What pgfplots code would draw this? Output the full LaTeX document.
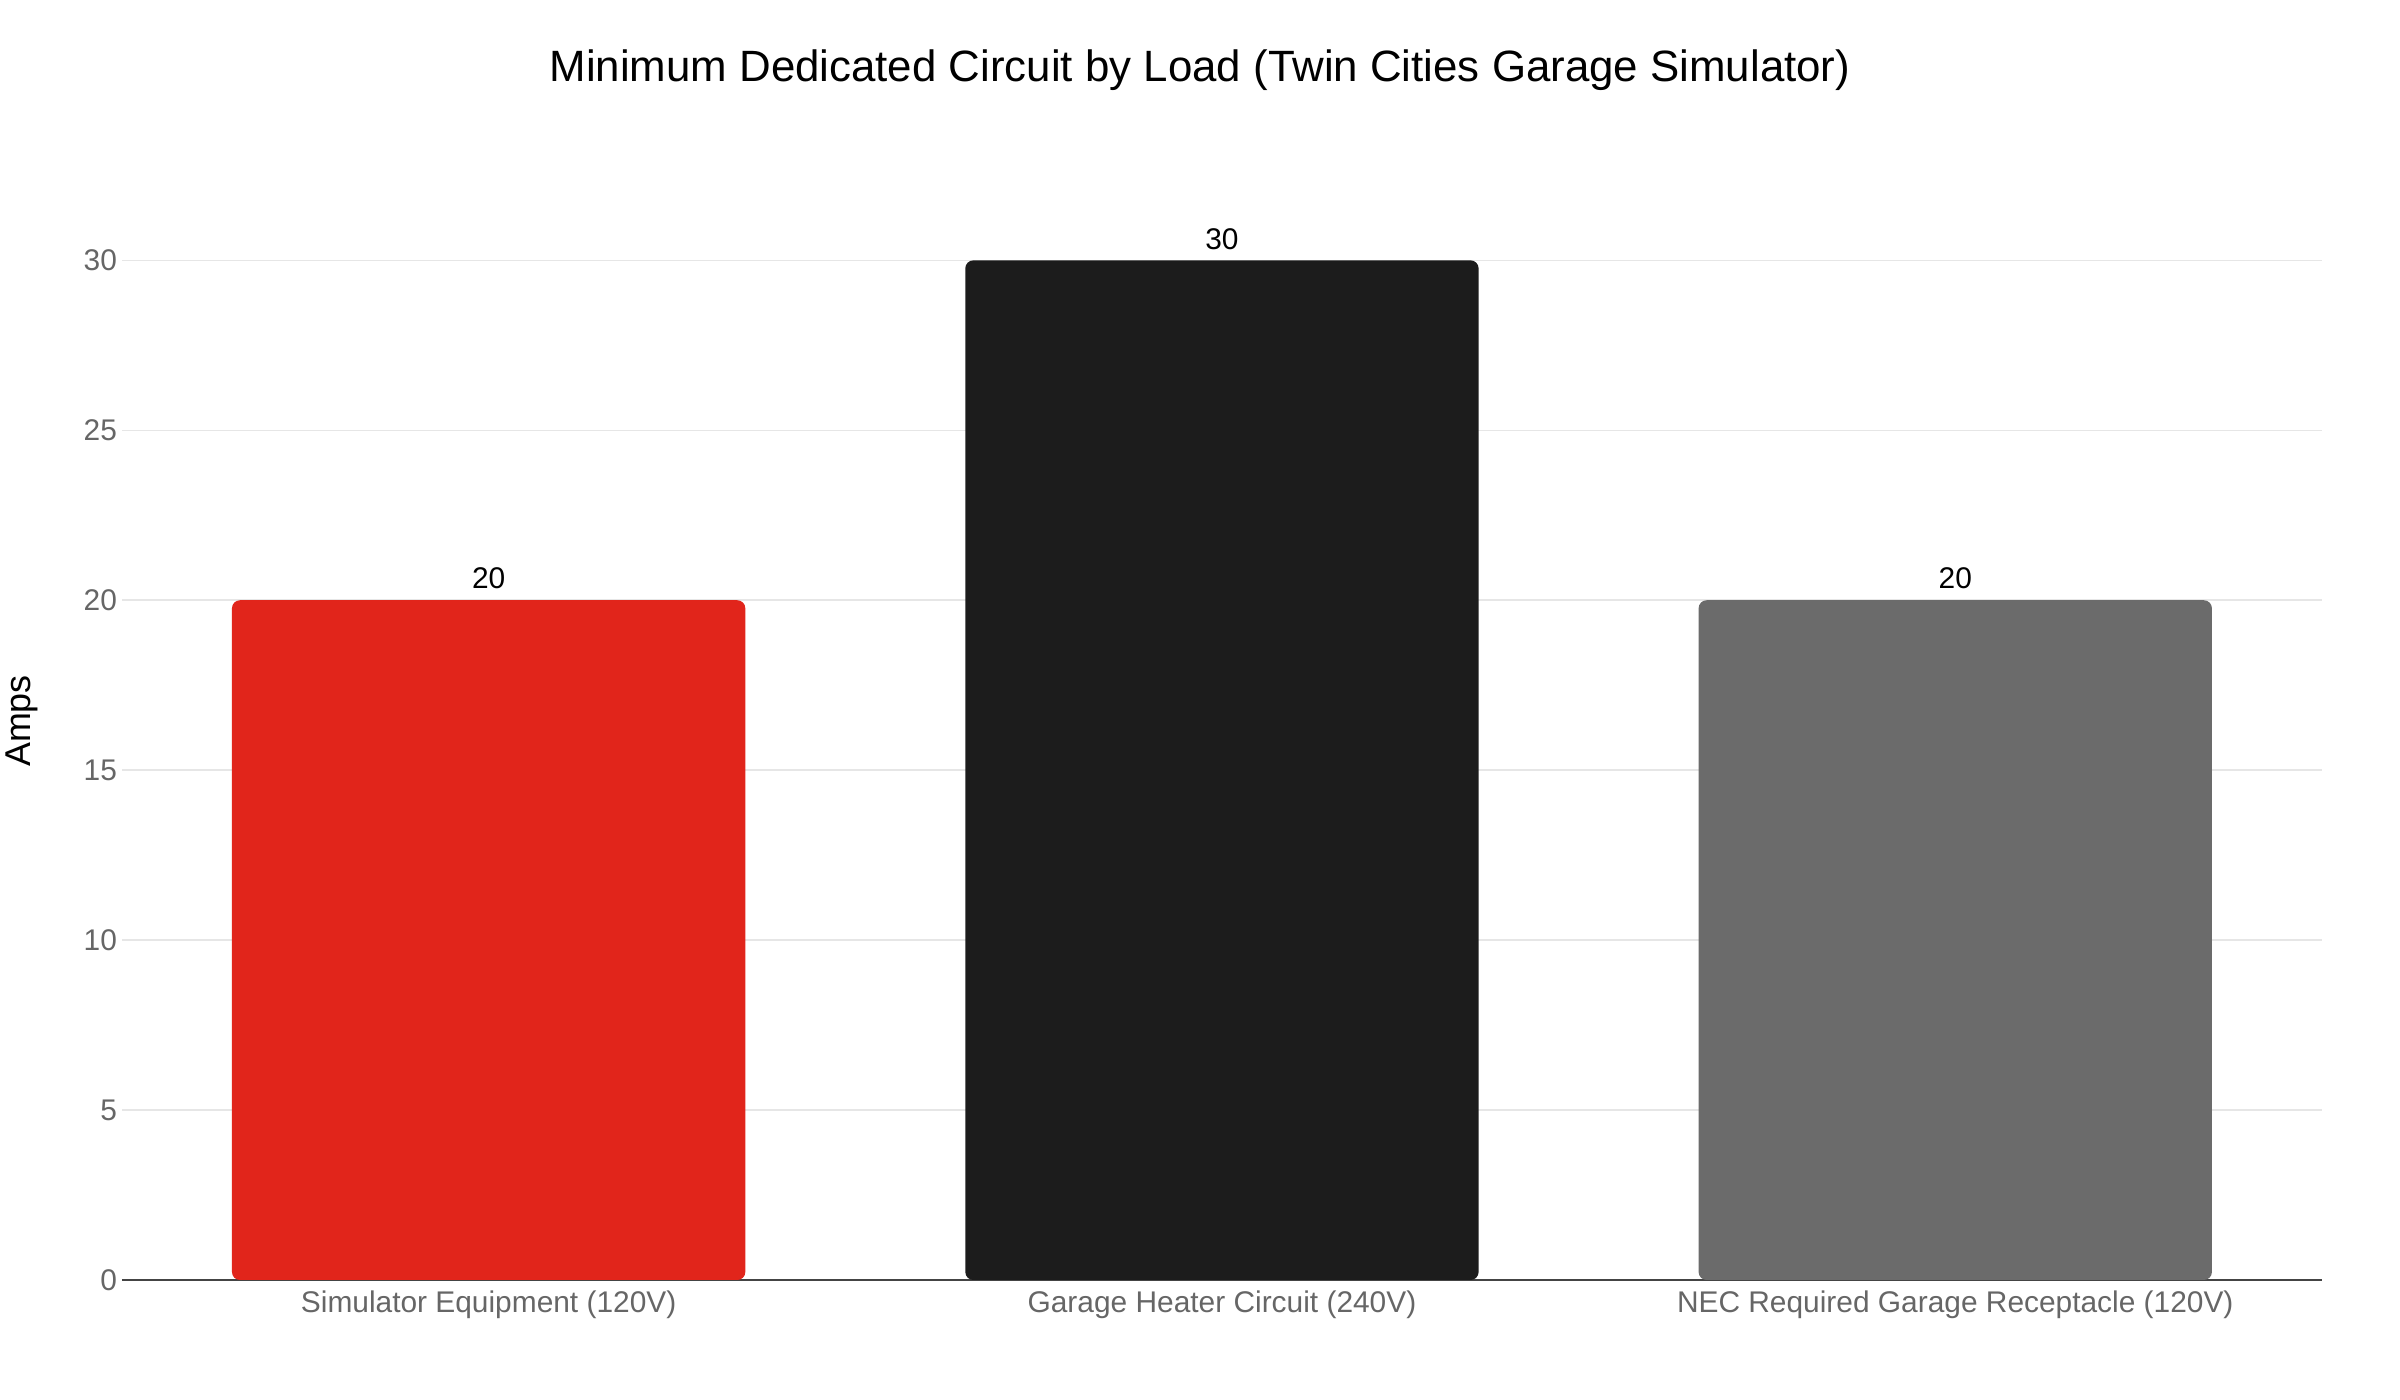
\documentclass[border=0pt]{standalone}
\usepackage{fontspec}
\setmainfont{Liberation Sans}
\usepackage{pgfplots}
\pgfplotsset{compat=1.18}

\definecolor{simred}{HTML}{E1251B}
\definecolor{heatblack}{HTML}{1C1C1C}
\definecolor{necgray}{HTML}{6B6B6B}
\definecolor{ticktext}{HTML}{666666}
\definecolor{gridgray}{HTML}{E6E6E6}
\definecolor{axisline}{HTML}{444444}

\begin{document}
\begin{tikzpicture}
\useasboundingbox (-61bp,-60bp) rectangle (1139bp,640bp);
\begin{axis}[
    scale only axis,
    width=1100bp,
    height=537bp,
    ybar,
    bar width=0.7,
    xmin=-0.5, xmax=2.5,
    ymin=0, ymax=31.6,
    xtick={0,1,2},
    xticklabels={Simulator Equipment (120V), Garage Heater Circuit (240V), NEC Required Garage Receptacle (120V)},
    ytick={0,5,...,30},
    major tick length=0pt,
    axis lines*=left,
    axis line style={-},
    y axis line style={draw=none},
    x axis line style={draw=axisline, line width=1bp},
    ymajorgrids,
    grid style={gridgray, line width=0.8bp},
    /pgf/number format/assume math mode=true,
    tick label style={font=\fontsize{15}{17}\selectfont, text=ticktext},
    xticklabel style={yshift=-2bp},
    yticklabel style={xshift=1bp},
    title={Minimum Dedicated Circuit by Load (Twin Cities Garage Simulator)},
    title style={font=\fontsize{22}{26}\selectfont, at={(0.5,1)}, anchor=center, yshift=62bp, xshift=-11bp},
    ylabel={Amps},
    % shifts act in the rotated frame: xshift moves up, yshift moves left
    every axis y label/.style={at={(axis description cs:0,0.5)}, rotate=90, anchor=center, xshift=11bp, yshift=50bp, font=\fontsize{18}{20}\selectfont},
    nodes near coords,
    nodes near coords style={font=\fontsize{15}{17}\selectfont, text=black, anchor=south, yshift=2bp},
]
\addplot[fill=simred, draw=none, bar shift=0pt, rounded corners=4bp] coordinates {(0,20)};
\addplot[fill=heatblack, draw=none, bar shift=0pt, rounded corners=4bp] coordinates {(1,30)};
\addplot[fill=necgray, draw=none, bar shift=0pt, rounded corners=4bp] coordinates {(2,20)};
\end{axis}
\end{tikzpicture}
\end{document}
